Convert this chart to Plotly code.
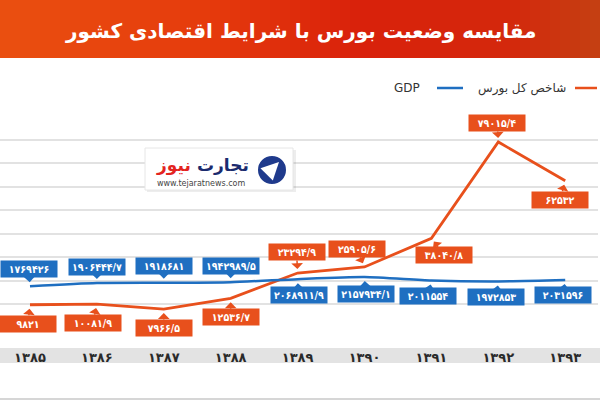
import plotly.graph_objects as go

# ---------------- data ----------------
years = ["۱۳۸۵", "۱۳۸۶", "۱۳۸۷", "۱۳۸۸", "۱۳۸۹", "۱۳۹۰", "۱۳۹۱", "۱۳۹۲", "۱۳۹۳"]
stock_index = [9821, 10081.9, 7966.5, 12536.7, 23294.9, 25905.6, 38040.8, 79015.4, 62532]
gdp = [1769426, 1906444.7, 1918681, 1942989.5, 2068911.9, 2157934.1, 2011554, 1972853, 2031596]

title_text = "مقایسه وضعیت بورس با شرایط اقتصادی کشور"
stock_name = "شاخص کل بورس"
gdp_name = "GDP"

# ---------------- styles ----------------
ORANGE = "#E8501C"
BLUE = "#1F6FC1"
FONT = "DejaVu Sans"
CFONT = "DejaVu Sans Condensed, DejaVu Sans"
W, H = 600, 400
ML, MR, MT, MB = 0, 2, 116, 72
PW, PH = W - ML - MR, H - MT - MB

# callout offsets (pixels) relative to each point
stock_dx = [-2, -4, 0, 0, -1, -8, 13, -1, -5]
stock_dy = [19, 19, 19, 19, -21, -18, 17, -19, 19]
gdp_dx = [-1, 0, 0, 0, 1, 1, -3, -2, -2]
gdp_dy = [-17, -16, -17, -16, 16, 17, 15, 16, 15]

FA = str.maketrans("0123456789", "۰۱۲۳۴۵۶۷۸۹")


def fa_num(v):
    s = f"{v}"
    if s.endswith(".0"):
        s = s[:-2]
    return s.replace(".", "/").translate(FA)


def px(x):
    return (x - ML) / PW


def py(y):
    return (H - MB - y) / PH


def label(xp, yp, text, size, color, xanchor="center", weight="normal"):
    return dict(xref="paper", yref="paper", x=px(xp), y=py(yp), text=text, showarrow=False,
                xanchor=xanchor, yanchor="middle",
                font=dict(family=FONT, size=size, color=color, weight=weight))


fig = go.Figure()
fig.add_trace(go.Scatter(x=years, y=gdp, mode="lines", name=gdp_name, yaxis="y2",
                         line=dict(color=BLUE, width=2.5, shape="spline", smoothing=0.6),
                         hoverinfo="skip"))
fig.add_trace(go.Scatter(x=years, y=stock_index, mode="lines", name=stock_name,
                         line=dict(color=ORANGE, width=2.8), hoverinfo="skip"))

shapes = []
annotations = []

# ---- title banner (gradient made of strips) ----
stops = [(0.0, (234, 80, 16)), (0.35, (229, 58, 12)), (0.6, (217, 33, 11)),
         (0.85, (212, 40, 12)), (1.0, (196, 64, 18))]


def grad(t):
    for (t0, c0), (t1, c1) in zip(stops[:-1], stops[1:]):
        if t0 <= t <= t1:
            f = (t - t0) / (t1 - t0)
            return "rgb(%d,%d,%d)" % tuple(round(a + (b - a) * f) for a, b in zip(c0, c1))
    return "rgb(%d,%d,%d)" % stops[-1][1]


n = 60
for i in range(n):
    x0 = W * i / n
    x1 = W * (i + 1) / n + 1
    shapes.append(dict(type="rect", xref="paper", yref="paper", x0=px(x0), x1=px(x1),
                       y0=py(58), y1=py(0), fillcolor=grad((i + 0.5) / n),
                       line=dict(width=0), layer="below"))
annotations.append(label(300, 31, title_text, 20, "white", weight="bold"))

# ---- manual legend (RTL) ----
shapes.append(dict(type="line", xref="paper", yref="paper", x0=px(575), x1=px(597), y0=py(88), y1=py(88),
                   line=dict(color=ORANGE, width=2.5)))
annotations.append(label(568, 88, stock_name, 12, "#333", xanchor="right"))
shapes.append(dict(type="line", xref="paper", yref="paper", x0=px(437), x1=px(463), y0=py(88), y1=py(88),
                   line=dict(color=BLUE, width=2.5)))
annotations.append(label(422, 88, gdp_name, 12, "#333", xanchor="right"))

# ---- x-axis band and bottom rule ----
shapes.append(dict(type="rect", xref="paper", yref="paper", x0=px(0), x1=px(600), y0=py(363), y1=py(348),
                   fillcolor="#E3E3E3", line=dict(width=0), layer="below"))
shapes.append(dict(type="line", xref="paper", yref="paper", x0=px(0), x1=px(600), y0=py(399), y1=py(399),
                   line=dict(color="#C8C8C8", width=1.5)))

# ---- logo watermark ----
shapes.append(dict(type="rect", xref="paper", yref="paper", x0=px(147), x1=px(296), y0=py(192), y1=py(150),
                   fillcolor="rgba(0,0,0,0.07)", line=dict(width=0)))
shapes.append(dict(type="rect", xref="paper", yref="paper", x0=px(145), x1=px(293), y0=py(190), y1=py(148),
                   fillcolor="white", line=dict(color="#E6E6E6", width=1)))
shapes.append(dict(type="circle", xref="paper", yref="paper", x0=px(257), x1=px(287), y0=py(185), y1=py(155),
                   fillcolor="#1F3A8C", line=dict(color="white", width=2)))
annotations.append(dict(xref="paper", yref="paper", x=px(279), y=py(162), ax=-12, ay=12,
                        text="", showarrow=True, arrowhead=2, arrowsize=1, arrowwidth=3.5, arrowcolor="white"))
annotations.append(label(251, 165, "تجارت", 17, "#1B2B6E", xanchor="right", weight="bold"))
annotations.append(label(193, 165, "نیوز", 17, "#E3241F", xanchor="right", weight="bold"))
annotations.append(label(201, 183, "www.tejaratnews.com", 8, "#444"))

# ---- callouts ----
for i, (yr, v) in enumerate(zip(years, stock_index)):
    annotations.append(dict(x=yr, y=v, xref="x", yref="y", text=fa_num(v), showarrow=True,
                            ax=stock_dx[i], ay=stock_dy[i], arrowhead=1, arrowsize=1.3, arrowwidth=1.5,
                            arrowcolor=ORANGE, standoff=4, bgcolor=ORANGE, borderpad=2, width=52,
                            font=dict(family=CFONT, size=10.5, color="white", weight="bold")))
for i, (yr, v) in enumerate(zip(years, gdp)):
    annotations.append(dict(x=yr, y=v, xref="x", yref="y2", text=fa_num(v), showarrow=True,
                            ax=gdp_dx[i], ay=gdp_dy[i], arrowhead=1, arrowsize=1.3, arrowwidth=1.5,
                            arrowcolor=BLUE, standoff=4, bgcolor=BLUE, borderpad=2, width=52,
                            font=dict(family=CFONT, size=10.5, color="white", weight="bold")))

fig.update_layout(
    width=W, height=H,
    margin=dict(l=ML, r=MR, t=MT, b=MB),
    paper_bgcolor="white", plot_bgcolor="white",
    showlegend=False,
    xaxis=dict(type="category", range=[-0.448, 8.49], showgrid=False, zeroline=False, showline=False,
               ticks="", ticklabelstandoff=20,
               tickfont=dict(family=FONT, size=13, color="#2A2A2A", weight="bold")),
    yaxis=dict(range=[-60, 90060], tickmode="linear", tick0=0, dtick=10000, showgrid=True,
               gridcolor="#E2E2E2", gridwidth=1.5,
               showticklabels=False, zeroline=False, showline=False, ticks=""),
    yaxis2=dict(range=[-6000, 9006000], overlaying="y", showgrid=False, showticklabels=False,
                zeroline=False, showline=False, ticks=""),
    shapes=shapes,
    annotations=annotations,
)

fig.write_html("out.html")
